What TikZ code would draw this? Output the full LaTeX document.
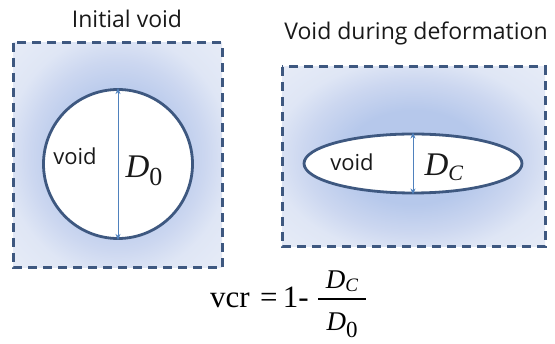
\documentclass[tikz,border=0pt]{standalone}
\usepackage{fontspec}
\setmainfont{Liberation Serif}
\newfontfamily\uisans{Open Sans}
\usetikzlibrary{shapes.geometric,arrows.meta}
\definecolor{edgeblue}{RGB}{62,88,128}
\definecolor{arrblue}{RGB}{79,129,189}
\definecolor{fillin}{RGB}{182,200,235}
\definecolor{fillmid}{RGB}{204,215,240}
\definecolor{fillout}{RGB}{223,230,245}
\definecolor{fillcorner}{RGB}{231,236,247}
\pgfdeclareradialshading{voidshade}{\pgfpoint{0bp}{0bp}}{%
  color(0bp)=(fillin); color(13bp)=(fillin); color(21bp)=(fillmid); color(27bp)=(fillout); color(36bp)=(fillcorner); color(50bp)=(fillcorner)}
\tikzset{
  matrixbox/.style={draw=edgeblue,line width=3pt,dash pattern=on 9pt off 6pt},
  voidshape/.style={draw=edgeblue,line width=2.8pt,fill=white,inner sep=0pt},
  dimarrow/.style={draw=arrblue,line width=0.9pt,{Stealth[length=6pt,width=5pt]}-{Stealth[length=6pt,width=5pt]}},
  title/.style={font=\uisans\fontsize{23}{26}\selectfont,text=black!90},
  voidlabel/.style={font=\uisans\fontsize{22}{25}\selectfont,text=black!90},
  dlabel/.style={font=\fontsize{33}{36}\selectfont,text=black!90}
}
\begin{document}
\begin{tikzpicture}[x=1pt,y=-1pt]
\useasboundingbox (0,0) rectangle (555,344);
% left box
\shade[shading=voidshade] (13,43) rectangle (222,268);
\draw[matrixbox] (13,43) rectangle (222,268);
\node[voidshape,circle,minimum size=149pt] (c0) at (118,164) {};
\draw[dimarrow] (c0.north) -- (c0.south);
\node[title] (t0) at (127,19) {Initial void};
\node[voidlabel] (v0) at (75,156) {void};
\node[dlabel,anchor=base west] (d0) at (122,178) {\textit{D}\raisebox{-8pt}{\fontsize{26}{28}\selectfont 0}};
% right box
\shade[shading=voidshade] (282,67) rectangle (545,247);
\draw[matrixbox] (282,67) rectangle (545,247);
\node[voidshape,ellipse,minimum width=218pt,minimum height=59pt] (e1) at (413,163.5) {};
\draw[dimarrow] (e1.north) -- (e1.south);
\node[title] (t1) at (416,33) {Void during deformation};
\node[voidlabel] (v1) at (352,162) {void};
\node[dlabel,anchor=base west] (dc) at (421,176) {\textit{D}\raisebox{-5pt}{\fontsize{22}{24}\selectfont\textit{C}}};
% formula
\node[anchor=base west,font=\fontsize{31}{34}\selectfont,inner sep=0pt] (lhs) at (210,308) {vcr\,\,=\,1-};
\draw[line width=1.2pt] (318,299) coordinate (fl) -- (366,299) coordinate (fr);
\node[anchor=base,font=\fontsize{27}{30}\selectfont,inner sep=0pt] (num) at (342,289) {\textit{D}\raisebox{-3pt}{\fontsize{19}{20}\selectfont\textit{C}}};
\node[anchor=base,font=\fontsize{27}{30}\selectfont,inner sep=0pt] (den) at (342,331) {\textit{D}\raisebox{-7pt}{\fontsize{23}{24}\selectfont 0}};
\end{tikzpicture}
\end{document}
